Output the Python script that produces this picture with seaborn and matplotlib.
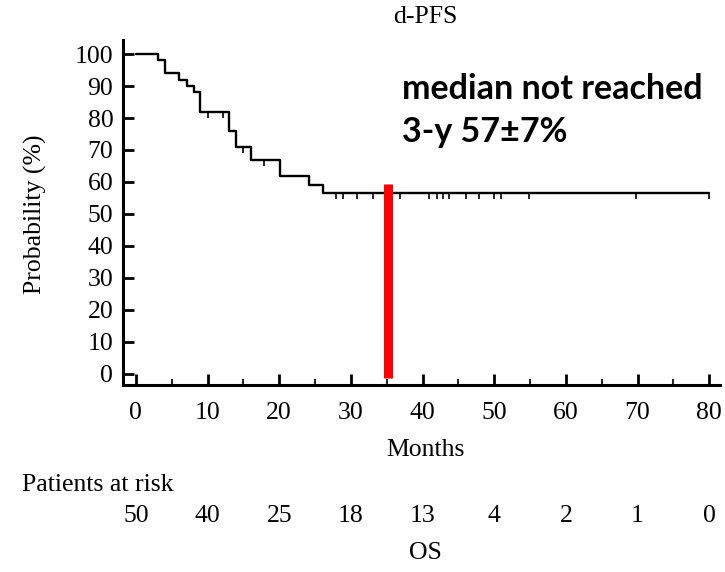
import numpy as np
import pandas as pd
import matplotlib
matplotlib.use("Agg")
import matplotlib.pyplot as plt
import seaborn as sns

# Kaplan-Meier step data (months, survival %)
step_times = [0, 3.1, 4.0, 6.0, 7.1, 8.1, 9.0, 13.0, 13.9, 16.0, 20.1, 24.2, 26.1, 79.9]
step_surv = [100, 98, 94, 92, 90, 88, 82, 76, 71, 67, 62, 59, 56.5, 56.5]
censor_times = [10.0, 12.1, 14.9, 17.9, 27.9, 28.9, 30.9, 33.1, 36.9, 40.9, 42.0,
                42.8, 43.7, 46.1, 47.9, 50.0, 50.9, 54.9, 69.8, 79.9]
median_marker_time = 35.2
median_marker_top = 59.5

risk_times = [0, 10, 20, 30, 40, 50, 60, 70, 80]
risk_counts = ["50", "40", "25", "18", "13", "4", "2", "1", "0"]
y_ticks = [0, 10, 20, 30, 40, 50, 60, 70, 80, 90, 100]

sns.set_theme(style="white")
plt.rcParams['font.family'] = ['Liberation Serif', 'DejaVu Serif']

FS = 18.5

fig = plt.figure(figsize=(7.25, 5.72), dpi=100)
ax = fig.add_axes([123/725, 1-385/572, (720-123)/725, (385-40)/572])

df = pd.DataFrame({"t": step_times, "s": step_surv})
sns.lineplot(data=df, x="t", y="s", drawstyle="steps-post", color="black",
             linewidth=1.7, ax=ax, estimator=None, sort=False)

ct = np.array(censor_times)
idx = np.searchsorted(np.array(step_times), ct, side="right") - 1
cs = np.array(step_surv)[idx]
cdf = pd.DataFrame({"t": ct, "s": cs})
sns.scatterplot(data=cdf, x="t", y="s", marker=3, s=20, color="black",
                linewidth=1.2, ax=ax, zorder=3)

ax.vlines(median_marker_time, -1.3, median_marker_top, color="#ff0000", linewidth=6.5, zorder=4)

ax.set_xlim(-1.8, 81.5)
ax.set_ylim(-3.5, 104.4)
ax.set_xticks(risk_times)
ax.set_xticks(np.arange(5, 80, 10), minor=True)
ax.set_yticks(y_ticks)
ax.tick_params(axis="both", which="major", direction="in", length=8, width=2,
               labelsize=FS, color="black", labelcolor="black", bottom=True, left=True)
ax.tick_params(axis="x", which="minor", direction="in", length=4.5, width=1.5,
               bottom=True)
ax.tick_params(axis="x", which="major", pad=12)
ax.tick_params(axis="y", which="major", pad=7)
for side in ["top", "right"]:
    ax.spines[side].set_visible(False)
for side in ["left", "bottom"]:
    ax.spines[side].set_color("black")
    ax.spines[side].set_linewidth(2.2)

ax.set_xlabel("")
ax.set_ylabel("Probability (%)", fontsize=FS, color="black")
ax.yaxis.set_label_coords((47-123)/597, (385-214)/345)

fig.text(425/725, 1-17/572, "d-PFS", ha="center", va="center", fontsize=FS, color="black")
fig.text(425/725, 1-450/572, "Months", ha="center", va="center", fontsize=FS, color="black")
fig.text(22/725, 1-485/572, "Patients at risk", ha="left", va="center", fontsize=FS, color="black")
for t, c in zip(risk_times, risk_counts):
    xf = ax.transData.transform((t, 0))[0] / fig.bbox.width
    fig.text(xf, 1-516/572, c, ha="center", va="center", fontsize=FS, color="black")
fig.text(425/725, 1-553/572, "OS", ha="center", va="center", fontsize=FS, color="black")

ax.text((402-123)/597, (385-89)/345, "median not reached", transform=ax.transAxes,
        ha="left", va="center", fontsize=24.5, fontweight="bold",
        family=["Lato", "DejaVu Sans"], color="black")
ax.text((402-123)/597, (385-132)/345, "3-y 57\u00b17%", transform=ax.transAxes,
        ha="left", va="center", fontsize=24.5, fontweight="bold",
        family=["Lato", "DejaVu Sans"], color="black")

fig.savefig("out.png", dpi=100)
